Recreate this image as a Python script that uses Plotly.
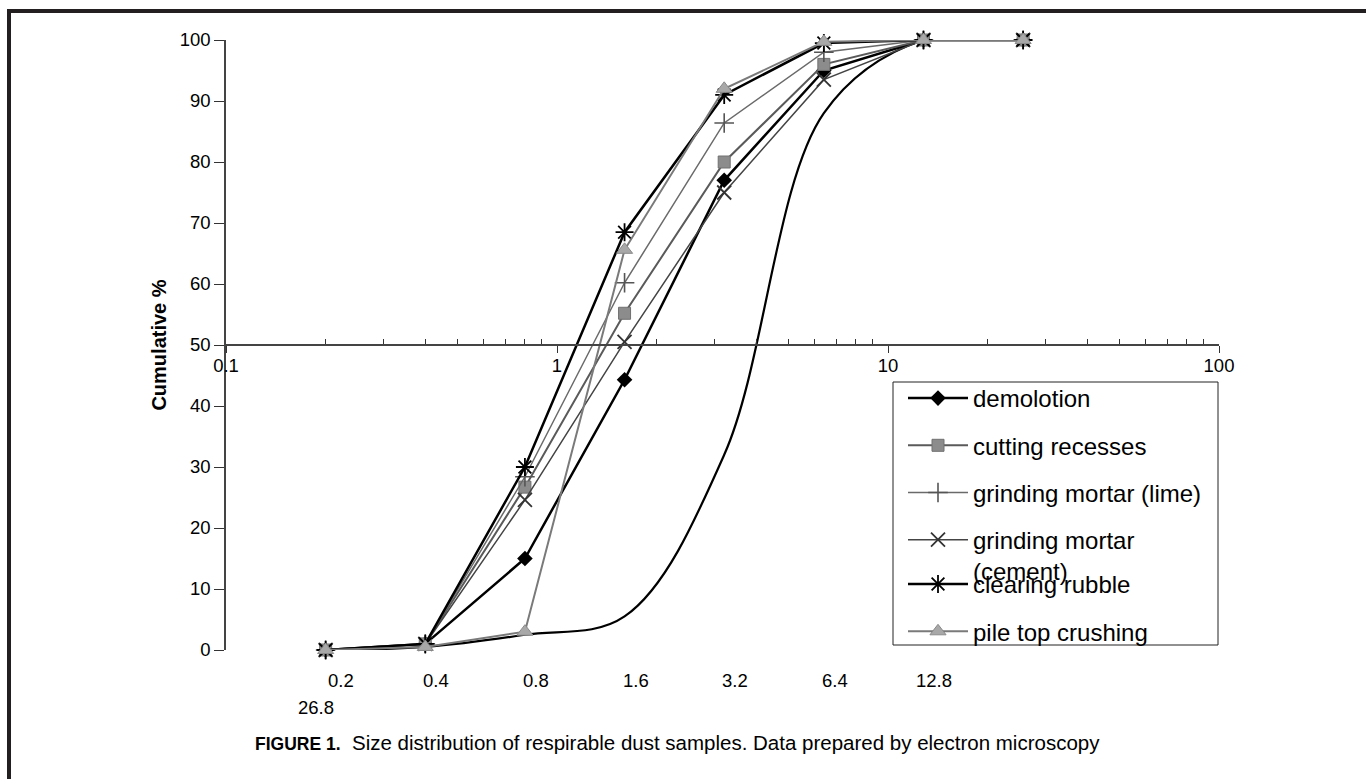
import math
import plotly.graph_objects as go

# ---------------- data ----------------
sizes = [0.2, 0.4, 0.8, 1.6, 3.2, 6.4, 12.8, 25.6]
demolotion = [0, 1, 15, 44.3, 77, 95, 100, 100]
cutting_recesses = [0, 1, 26.7, 55.2, 80, 96, 100, 100]
grinding_lime = [0, 1, 28.4, 60.2, 86.4, 98, 100, 100]
grinding_cement = [0, 1, 24.6, 50.5, 75, 93.5, 100, 100]
clearing_rubble = [0, 1, 30, 68.5, 91, 99.5, 100, 100]
pile_top = [0, 0.5, 3, 65.6, 92, 99.7, 100, 100]
smooth_curve = [0, 0.5, 2.5, 5.5, 32, 88, 100, 100]

x_major_ticks = [0.1, 1, 10, 100]
x_major_text = ["0.1", "1", "10", "100"]
y_ticks = [0, 10, 20, 30, 40, 50, 60, 70, 80, 90, 100]
bottom_label_vals = [0.2, 0.4, 0.8, 1.6, 3.2, 6.4, 12.8]
bottom_label_text = ["0.2", "0.4", "0.8", "1.6", "3.2", "6.4", "12.8"]
extra_label_text = "26.8"

FONT = "Liberation Sans, Arial, Helvetica, sans-serif"

# ---------------- layout geometry ----------------
W, H = 1366, 779
L, R, T, B = 226, 147, 40, 129
PW, PH = W - L - R, H - T - B


def px_x(p):
    return (p - L) / PW


def px_y(p):
    return (H - B - p) / PH


fig = go.Figure()

fig.add_trace(go.Scatter(
    x=sizes, y=smooth_curve, mode="lines", showlegend=False,
    line=dict(color="black", width=2.2, shape="spline"), hoverinfo="skip"))

series = [
    ("demolotion", demolotion, dict(symbol="diamond", size=12, color="black"),
     dict(color="black", width=2.5), "legend"),
    ("cutting recesses", cutting_recesses,
     dict(symbol="square", size=12, color="#8c8c8c", line=dict(color="#707070", width=1)),
     dict(color="#5a5a5a", width=2), "legend"),
    ("grinding mortar (lime)", grinding_lime,
     dict(symbol="cross-thin", size=14, color="#555555", line=dict(color="#555555", width=1.6)),
     dict(color="#6a6a6a", width=1.5), "legend"),
    ("grinding mortar<br>(cement)", grinding_cement,
     dict(symbol="x-thin", size=14, color="#333333", line=dict(color="#333333", width=1.8)),
     dict(color="#444444", width=1.5), "legend"),
    ("clearing rubble", clearing_rubble,
     dict(symbol="asterisk", size=15, color="black", line=dict(color="black", width=1.8)),
     dict(color="black", width=2.5), "legend2"),
    ("pile top crushing", pile_top,
     dict(symbol="triangle-up", size=14, color="#a8a8a8", line=dict(color="#8a8a8a", width=1)),
     dict(color="#7a7a7a", width=2), "legend2"),
]

for i, (name, vals, mk, ln, lg) in enumerate(series):
    fig.add_trace(go.Scatter(
        x=sizes, y=vals, mode="lines+markers", name=name,
        marker=mk, line=ln, legend=lg, legendgroup="g%d" % i,
        cliponaxis=False))

annotations = []
for i, (v, t) in enumerate(zip(bottom_label_vals, bottom_label_text)):
    annotations.append(dict(
        x=math.log10(v), y=0, xref="x", yref="y", text=t, showarrow=False,
        xanchor="center", yanchor="middle", xshift=15 if i == 0 else 11, yshift=-30,
        font=dict(family=FONT, size=18.5, color="black")))
annotations.append(dict(
    x=math.log10(bottom_label_vals[0]), y=0, xref="x", yref="y", text=extra_label_text,
    showarrow=False, xanchor="center", yanchor="middle", xshift=-10, yshift=-57,
    font=dict(family=FONT, size=18.5, color="black")))
annotations.append(dict(
    x=px_x(253), y=px_y(743), xref="paper", yref="paper",
    text="<b><span style=\"font-size:17.5px\">FIGURE 1.</span></b>\u00a0 "
         "Size distribution of respirable dust samples. "
         "Data prepared by electron microscopy",
    showarrow=False, xanchor="left", yanchor="middle",
    font=dict(family=FONT, size=20.5, color="black")))

shapes = [
    # legend box
    dict(type="rect", xref="paper", yref="paper",
         x0=px_x(893), x1=px_x(1218), y0=px_y(645), y1=px_y(382),
         line=dict(color="#222222", width=1), fillcolor="rgba(0,0,0,0)", layer="above"),
    # figure frame (top and left)
    dict(type="line", xref="paper", yref="paper",
         x0=px_x(9), x1=px_x(1366), y0=px_y(11), y1=px_y(11),
         line=dict(color="#231f20", width=4)),
    dict(type="line", xref="paper", yref="paper",
         x0=px_x(9), x1=px_x(9), y0=px_y(9), y1=px_y(779),
         line=dict(color="#231f20", width=4)),
]

minor_vals = [m * 10 ** e for e in (-1, 0, 1) for m in range(2, 10)]

legend_common = dict(
    bgcolor="rgba(0,0,0,0)", borderwidth=0,
    font=dict(family=FONT, size=24, color="black"),
    traceorder="grouped", tracegroupgap=13, itemwidth=60,
    xanchor="left", yanchor="top", valign="top", itemclick=False)

fig.update_layout(
    width=W, height=H,
    margin=dict(l=L, r=R, t=T, b=B, autoexpand=False),
    paper_bgcolor="white", plot_bgcolor="white",
    font=dict(family=FONT, size=18.5, color="black"),
    xaxis=dict(
        type="log", range=[-1, 2], anchor="free", position=0.5,
        tickmode="array", tickvals=x_major_ticks, ticktext=x_major_text,
        ticks="outside", ticklen=7, tickwidth=1, tickcolor="#333333",
        ticklabelstandoff=-3,
        showline=True, linecolor="#444444", linewidth=1.5,
        showgrid=False, zeroline=False,
        tickfont=dict(family=FONT, size=18.5, color="black"),
        minor=dict(tickmode="array", tickvals=minor_vals, ticks="inside",
                   ticklen=5, tickwidth=1, tickcolor="#333333", showgrid=False),
    ),
    yaxis=dict(
        range=[0, 100], tickmode="array", tickvals=y_ticks,
        ticks="outside", ticklen=10, tickwidth=1, tickcolor="#333333",
        showline=True, linecolor="#444444", linewidth=1.5,
        showgrid=False, zeroline=False,
        tickfont=dict(family=FONT, size=18.5, color="black"),
        title=dict(text="<b>Cumulative %</b>", standoff=8,
                   font=dict(family=FONT, size=20, color="black")),
    ),
    legend=dict(x=px_x(903), y=px_y(376), **legend_common),
    legend2=dict(x=px_x(903), y=px_y(562), **legend_common),
    annotations=annotations,
    shapes=shapes,
    showlegend=True,
)

fig.write_html("out.html", config={"displayModeBar": False},
               post_script="document.body.style.margin='0px';")
